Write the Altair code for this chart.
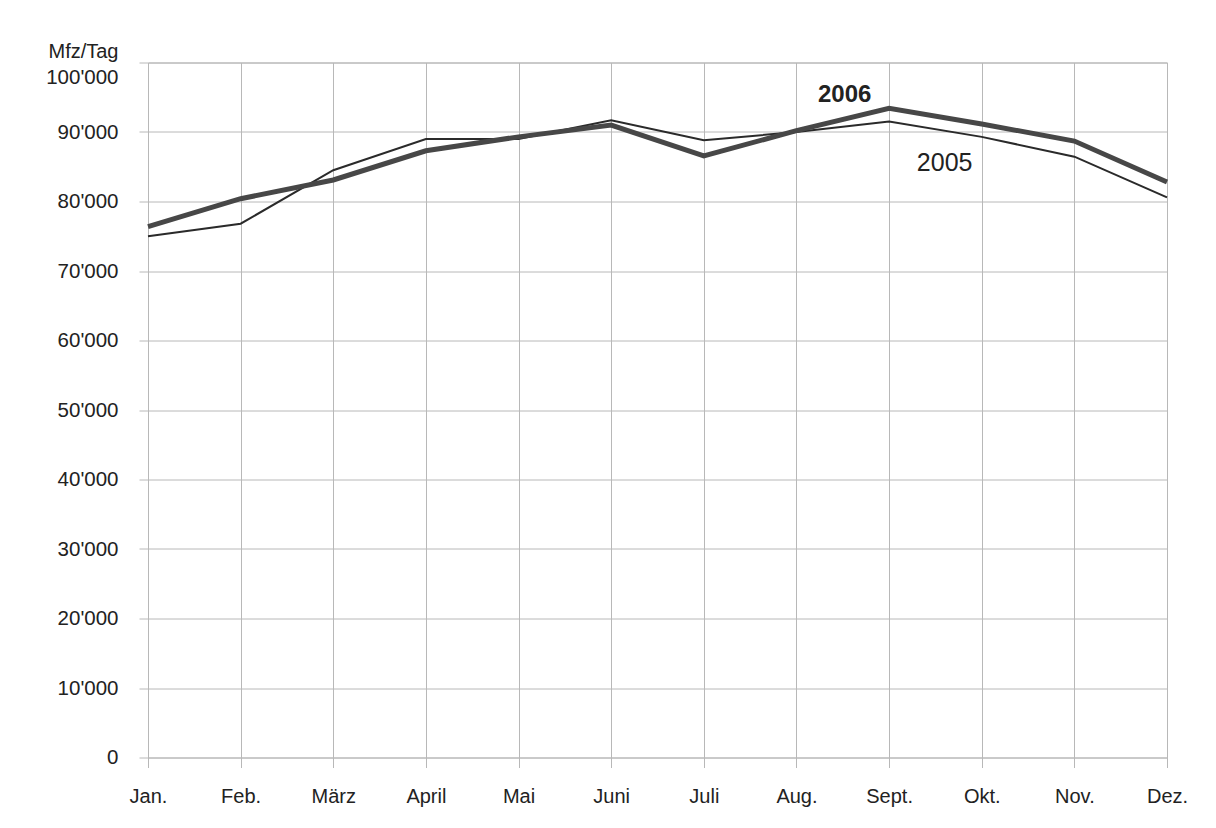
import altair as alt
import pandas as pd

months = ["Jan.", "Feb.", "März", "April", "Mai", "Juni", "Juli", "Aug.", "Sept.", "Okt.", "Nov.", "Dez."]
v2005 = [75000, 76800, 84500, 89000, 89000, 91700, 88800, 90000, 91500, 89300, 86450, 80600]
v2006 = [76400, 80400, 83100, 87300, 89300, 91000, 86550, 90200, 93400, 91150, 88700, 82800]

label_text = ["2006", "2005"]
label_idx = [7.52, 8.6]
label_val = [95300, 85500]

rows = []
for i, m in enumerate(months):
    rows.append({"idx": i, "month": m, "year": "2005", "value": v2005[i]})
    rows.append({"idx": i, "month": m, "year": "2006", "value": v2006[i]})
df = pd.DataFrame(rows)
lab = pd.DataFrame({"text": label_text, "idx": label_idx, "value": label_val})

FONT = "Liberation Sans"
month_js = "[" + ",".join("'" + m + "'" for m in months) + "]"

x_enc = alt.X(
    "idx:Q",
    scale=alt.Scale(domain=[0, 11], nice=False, zero=False),
    axis=alt.Axis(
        values=list(range(12)),
        labelExpr=month_js + "[datum.value]",
        labelFlush=False,
        labelOverlap=False,
        title=None,
        grid=True,
        gridColor="#b8b8b8",
        gridWidth=1,
        tickSize=10,
        tickColor="#b8b8b8",
        domain=False,
        labelPadding=19,
        labelFont=FONT,
        labelFontSize=20,
        labelColor="#222222",
    ),
)
y_enc = alt.Y(
    "value:Q",
    scale=alt.Scale(domain=[0, 100000], nice=False),
    axis=alt.Axis(
        values=list(range(0, 100001, 10000)),
        labelExpr="replace(format(datum.value, ','), ',', \"'\")",
        labelFlush=False,
        labelOverlap=False,
        title="Mfz/Tag",
        titleAngle=0,
        titleAlign="right",
        titleBaseline="middle",
        titleX=-30,
        titleY=-11,
        titleFont=FONT,
        titleFontSize=20,
        titleFontWeight="normal",
        titleColor="#222222",
        grid=True,
        gridColor="#b8b8b8",
        gridWidth=1,
        tickSize=9,
        tickColor="#b8b8b8",
        domain=False,
        labelPadding=21,
        labelOffset={"condition": {"test": "datum.value == 100000", "value": 15}, "value": 0},
        labelFont=FONT,
        labelFontSize=20.5,
        labelColor="#222222",
    ),
)

base = alt.Chart(df)
line05 = base.transform_filter("datum.year == '2005'").mark_line(
    color="#2a2a2a", strokeWidth=2
).encode(x=x_enc, y=y_enc)
line06 = base.transform_filter("datum.year == '2006'").mark_line(
    color="#474747", strokeWidth=5
).encode(x="idx:Q", y="value:Q")

labc = alt.Chart(lab)
txt06 = labc.transform_filter("datum.text == '2006'").mark_text(
    font=FONT, color="#222222", baseline="middle", align="center", fontWeight="bold", fontSize=24
).encode(x="idx:Q", y="value:Q", text="text:N")
txt05 = labc.transform_filter("datum.text == '2005'").mark_text(
    font=FONT, color="#222222", baseline="middle", align="center", fontWeight="normal", fontSize=25
).encode(x="idx:Q", y="value:Q", text="text:N")

chart = alt.layer(line05, line06, txt06, txt05).properties(
    width=1019,
    height=695,
    background="white",
    autosize=alt.AutoSizeParams(type="none"),
    padding={"left": 140, "top": 54.5, "right": 40, "bottom": 60},
).configure_view(stroke="#b8b8b8", strokeWidth=1)

chart.save("out.html", embed_options={"renderer": "svg", "actions": False})
